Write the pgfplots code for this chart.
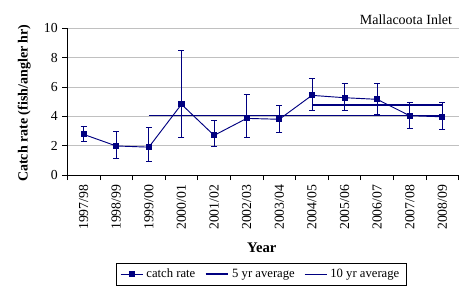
\documentclass[border=0pt]{standalone}
\usepackage{fontspec}
\setmainfont{Liberation Serif}
\usepackage{pgfplots}
\usepackage{pgfplotstable}
\pgfplotsset{compat=1.18}
\definecolor{navy}{HTML}{000080}
\definecolor{gridgrey}{HTML}{C0C0C0}

% catch rate with asymmetric error bars (ep = up, em = down)
\pgfplotstableread{
x  y     ep    em
1  2.77  0.53  0.50
2  1.98  0.97  0.84
3  1.90  1.35  0.97
4  4.82  3.65  2.23
5  2.70  1.00  0.78
6  3.86  1.61  1.27
7  3.80  0.95  0.89
8  5.43  1.13  1.00
9  5.27  0.98  0.84
10 5.16  1.09  1.02
11 4.04  0.91  0.84
12 3.97  0.98  0.83
}\catchtable

\begin{document}
\begin{tikzpicture}
\path[use as bounding box] (-50.5pt,-86.25pt) rectangle (297.5pt,131.25pt);
\begin{axis}[
  at={(0pt,0pt)}, anchor=south west,
  scale only axis, width=293.5pt, height=110pt,
  xmin=0.5, xmax=12.5, ymin=0, ymax=10,
  axis lines*=left, axis line style={-, black, line width=0.6pt},
  ytick={0,2,...,10},
  ymajorgrids, grid style={gridgrey, line width=0.6pt},
  xtick={1,...,12},
  xticklabels={1997/98,1998/99,1999/00,2000/01,2001/02,2002/03,2003/04,2004/05,2005/06,2006/07,2007/08,2008/09},
  minor xtick={0.5,1.5,...,12.5},
  major x tick style={draw=none},
  tick align=outside, major tick length=3.75pt, minor tick length=3.75pt,
  tick style={black, line width=0.6pt},
  x tick label style={rotate=90, anchor=east},
  ticklabel style={font=\fontsize{10.3}{12}\selectfont},
  /pgf/number format/assume math mode=true,
  xlabel={\textbf{Year}},
  every axis x label/.style={at={(axis description cs:0.497,-0.498)}, anchor=center, font=\fontsize{11}{13}\selectfont},
  ylabel={\textbf{Catch rate (fish/angler hr)}},
  every axis y label/.style={at={(axis description cs:-0.11,0.49)}, rotate=90, anchor=center, font=\fontsize{10.5}{12}\selectfont},
  legend style={at={(0.495,-0.602)}, anchor=north, legend columns=3, draw=black,
    line width=0.6pt, font=\fontsize{9.5}{11}\selectfont,
    /tikz/every even column/.append style={column sep=5pt}},
  clip=false,
]
\addplot[navy, line width=0.7pt, mark=square*, mark size=1.9pt,
  error bars/.cd, y dir=both, y explicit,
  error bar style={navy, line width=0.6pt},
  error mark options={rotate=90, mark size=2.25pt, navy, line width=0.6pt}]
  table[x=x, y=y, y error plus=ep, y error minus=em] {\catchtable};
\addlegendentry{catch rate}
\addplot[navy, line width=1.6pt] coordinates {(8,4.79) (12,4.79)};
\addlegendentry{5 yr average}
\addplot[navy, line width=0.6pt] coordinates {(3,4.07) (12,4.07)};
\addlegendentry{10 yr average}
\node[anchor=east, font=\fontsize{10.5}{12}\selectfont] at (rel axis cs:0.995,1.057) {Mallacoota Inlet};
\end{axis}
\end{tikzpicture}
\end{document}
